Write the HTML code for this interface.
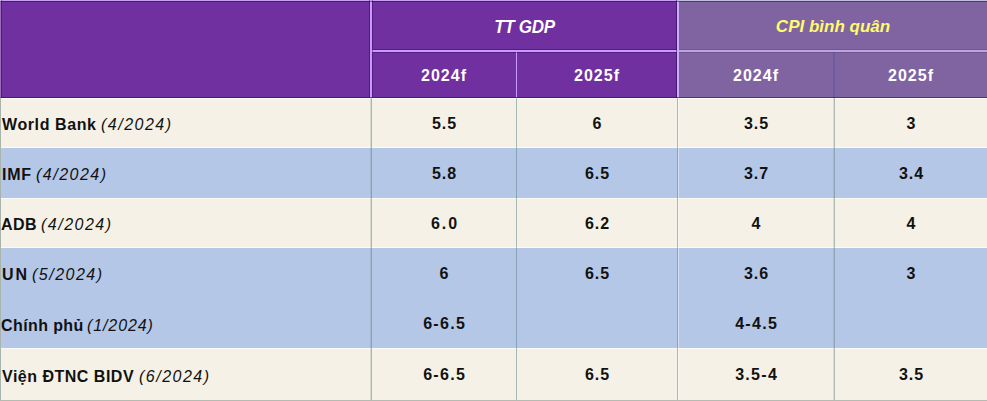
<!DOCTYPE html>
<html><head><meta charset="utf-8">
<style>
html,body{margin:0;padding:0;}
body{width:987px;height:401px;overflow:hidden;position:relative;background:#f5f1e6;font-family:"Liberation Sans",sans-serif;}
.b{position:absolute;}
.t{position:absolute;white-space:nowrap;font-size:16px;line-height:20px;color:#111;font-weight:bold;}
.t i{font-weight:normal;}
.c{text-align:center;}
.h{color:#fff;}
</style></head><body>
<!-- header backgrounds -->
<div class="b" style="left:0;top:0;width:678px;height:98px;background:#7030a0"></div>
<div class="b" style="left:678px;top:0;width:309px;height:98px;background:#8064a2"></div>
<!-- body rows -->
<div class="b" style="left:0;top:98px;width:987px;height:50px;background:#f5f1e6"></div>
<div class="b" style="left:0;top:148px;width:987px;height:50px;background:#b4c7e7"></div>
<div class="b" style="left:0;top:198px;width:987px;height:50px;background:#f5f1e6"></div>
<div class="b" style="left:0;top:248px;width:987px;height:100px;background:#b4c7e7"></div>
<div class="b" style="left:0;top:348px;width:987px;height:53px;background:#f5f1e6"></div>
<!-- white row separators -->
<div class="b" style="left:0;top:98px;width:987px;height:1px;background:#fdfdfb"></div>
<div class="b" style="left:0;top:147px;width:987px;height:1px;background:#fbfbf8"></div>
<div class="b" style="left:0;top:197.5px;width:987px;height:1px;background:#fbfbf8"></div>
<div class="b" style="left:0;top:247px;width:987px;height:1px;background:#fbfbf8"></div>
<div class="b" style="left:0;top:347.5px;width:987px;height:1px;background:#fbfbf8"></div>
<!-- header lines -->
<div class="b" style="left:370px;top:0;width:2px;height:98px;background:#cc99ff"></div>
<div class="b" style="left:372px;top:50px;width:305px;height:2px;background:#cc99ff"></div>
<div class="b" style="left:516px;top:52px;width:1px;height:46px;background:#cc99ff"></div>
<div class="b" style="left:677px;top:0;width:2px;height:98px;background:#cfaaf5"></div>
<div class="b" style="left:679px;top:50px;width:308px;height:2px;background:#bda3e0"></div>
<div class="b" style="left:833px;top:52px;width:2px;height:46px;background:#6a5ca3"></div>
<div class="b" style="left:0;top:0;width:678px;height:1px;background:#c9a0f0"></div>
<div class="b" style="left:678px;top:0;width:309px;height:1px;background:#c0bfe0"></div>
<!-- body vertical lines -->
<div class="b" style="left:370px;top:98px;width:1px;height:303px;background:rgba(110,135,130,.22)"></div>
<div class="b" style="left:371px;top:98px;width:1px;height:303px;background:rgba(100,125,125,.5)"></div>
<div class="b" style="left:516px;top:98px;width:1px;height:303px;background:rgba(90,130,130,.5)"></div>
<div class="b" style="left:677px;top:98px;width:1px;height:303px;background:rgba(100,125,125,.5)"></div>
<div class="b" style="left:678px;top:98px;width:1px;height:303px;background:rgba(255,255,255,.45)"></div>
<div class="b" style="left:833px;top:98px;width:1px;height:303px;background:rgba(110,135,130,.2)"></div>
<div class="b" style="left:834px;top:98px;width:1px;height:303px;background:rgba(100,125,125,.48)"></div>
<div class="b" style="left:0;top:98px;width:1px;height:303px;background:#a9b5ac"></div>
<div class="b" style="left:0;top:400px;width:987px;height:1px;background:#b4bcb2"></div>
<!-- halos -->
<div class="b" style="left:0;top:97px;width:987px;height:1px;background:rgba(25,0,70,.5)"></div>
<div class="b" style="left:0;top:1px;width:987px;height:1px;background:rgba(25,0,70,.45)"></div>
<div class="b" style="left:0;top:0;width:1px;height:98px;background:rgba(255,255,255,.3)"></div>
<div class="b" style="left:1px;top:0;width:1px;height:98px;background:rgba(25,0,70,.4)"></div>
<div class="b" style="left:369px;top:0;width:1px;height:98px;background:rgba(25,0,70,.4)"></div>
<div class="b" style="left:372px;top:0;width:1px;height:98px;background:rgba(25,0,70,.35)"></div>
<div class="b" style="left:373px;top:49px;width:303px;height:1px;background:rgba(25,0,70,.35)"></div>
<div class="b" style="left:373px;top:52px;width:303px;height:1px;background:rgba(25,0,70,.35)"></div>
<div class="b" style="left:676px;top:0;width:1px;height:98px;background:rgba(25,0,70,.45)"></div>
<div class="b" style="left:679px;top:49px;width:308px;height:1px;background:rgba(25,0,70,.15)"></div>
<div class="b" style="left:679px;top:52px;width:308px;height:1px;background:rgba(25,0,70,.15)"></div>

<!-- header text -->
<div class="t c h" style="left:372px;width:305px;top:18px;font-size:17px;letter-spacing:-0.3px;transform:scaleY(1.09)"><i style="font-weight:bold">TT GDP</i></div>
<div class="t c" style="left:679px;width:308px;top:17px;font-size:17px;color:#fffa6e"><i style="font-weight:bold">CPI bình quân</i></div>
<div class="t c h v" style="left:372px;width:144px;top:66px;letter-spacing:1px">2024f</div>
<div class="t c h v" style="left:517px;width:160px;top:66px;letter-spacing:1px">2025f</div>
<div class="t c h v" style="left:679px;width:154px;top:66px;letter-spacing:1px">2024f</div>
<div class="t c h v" style="left:835px;width:152px;top:66px;letter-spacing:1px">2025f</div>

<!-- labels -->
<div class="t" style="left:2px;top:115px;letter-spacing:0.6px">World Bank</div><div class="t" style="left:101px;top:115px;letter-spacing:1.5px"><i>(4/2024)</i></div>
<div class="t" style="left:2px;top:165px;letter-spacing:0.7px">IMF</div><div class="t" style="left:36px;top:165px;letter-spacing:1.5px"><i>(4/2024)</i></div>
<div class="t" style="left:1px;top:215px;letter-spacing:0.5px">ADB</div><div class="t" style="left:41px;top:215px;letter-spacing:1.5px"><i>(4/2024)</i></div>
<div class="t" style="left:2px;top:265px;letter-spacing:2.0px">UN</div><div class="t" style="left:32px;top:265px;letter-spacing:1.5px"><i>(5/2024)</i></div>
<div class="t" style="left:1px;top:316px;letter-spacing:0.4px">Chính phủ</div><div class="t" style="left:87px;top:316px;letter-spacing:0.9px"><i>(1/2024)</i></div>
<div class="t" style="left:2px;top:367px;letter-spacing:0.5px">Viện ĐTNC BIDV</div><div class="t" style="left:139px;top:367px;letter-spacing:1.5px"><i>(6/2024)</i></div>

<!-- values -->
<div class="t c" style="left:372px;width:144px;top:114px;letter-spacing:1.0px;text-indent:1.0px">5.5</div>
<div class="t c" style="left:517px;width:160px;top:114px;letter-spacing:1.0px;text-indent:1.0px">6</div>
<div class="t c" style="left:679px;width:154px;top:114px;letter-spacing:1.0px;text-indent:1.0px">3.5</div>
<div class="t c" style="left:835px;width:152px;top:114px;letter-spacing:1.0px;text-indent:1.0px">3</div>
<div class="t c" style="left:372px;width:144px;top:164px;letter-spacing:1.0px;text-indent:1.0px">5.8</div>
<div class="t c" style="left:517px;width:160px;top:164px;letter-spacing:1.0px;text-indent:1.0px">6.5</div>
<div class="t c" style="left:679px;width:154px;top:164px;letter-spacing:1.0px;text-indent:1.0px">3.7</div>
<div class="t c" style="left:835px;width:152px;top:164px;letter-spacing:1.0px;text-indent:1.0px">3.4</div>
<div class="t c" style="left:372px;width:144px;top:214px;letter-spacing:2px;text-indent:2px">6.0</div>
<div class="t c" style="left:517px;width:160px;top:214px;letter-spacing:1.0px;text-indent:1.0px">6.2</div>
<div class="t c" style="left:679px;width:154px;top:214px;letter-spacing:1.0px;text-indent:1.0px">4</div>
<div class="t c" style="left:835px;width:152px;top:214px;letter-spacing:1.0px;text-indent:1.0px">4</div>
<div class="t c" style="left:372px;width:144px;top:264px;letter-spacing:1.0px;text-indent:1.0px">6</div>
<div class="t c" style="left:517px;width:160px;top:264px;letter-spacing:1.0px;text-indent:1.0px">6.5</div>
<div class="t c" style="left:679px;width:154px;top:264px;letter-spacing:1.0px;text-indent:1.0px">3.6</div>
<div class="t c" style="left:835px;width:152px;top:264px;letter-spacing:1.0px;text-indent:1.0px">3</div>
<div class="t c" style="left:372px;width:144px;top:314px;letter-spacing:1.3px;text-indent:1.3px">6-6.5</div>
<div class="t c" style="left:679px;width:154px;top:314px;letter-spacing:1.3px;text-indent:1.3px">4-4.5</div>
<div class="t c" style="left:372px;width:144px;top:365px;letter-spacing:1.3px;text-indent:1.3px">6-6.5</div>
<div class="t c" style="left:517px;width:160px;top:365px;letter-spacing:1.0px;text-indent:1.0px">6.5</div>
<div class="t c" style="left:679px;width:154px;top:365px;letter-spacing:1.3px;text-indent:1.3px">3.5-4</div>
<div class="t c" style="left:835px;width:152px;top:365px;letter-spacing:1.0px;text-indent:1.0px">3.5</div>
</body></html>
